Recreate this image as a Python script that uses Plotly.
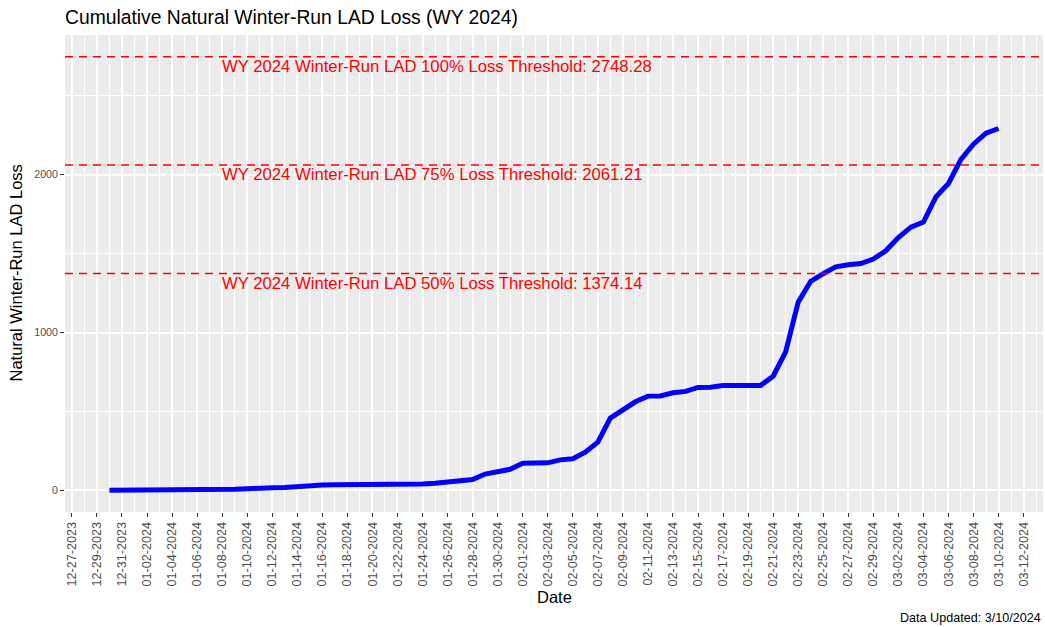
import plotly.graph_objects as go

dates = [
    "2023-12-30", "2023-12-31",
    "2024-01-01", "2024-01-02", "2024-01-03", "2024-01-04", "2024-01-05", "2024-01-06", "2024-01-07",
    "2024-01-08", "2024-01-09", "2024-01-10", "2024-01-11", "2024-01-12", "2024-01-13", "2024-01-14",
    "2024-01-15", "2024-01-16", "2024-01-17", "2024-01-18", "2024-01-19", "2024-01-20", "2024-01-21",
    "2024-01-22", "2024-01-23", "2024-01-24", "2024-01-25", "2024-01-26", "2024-01-27", "2024-01-28",
    "2024-01-29", "2024-01-30", "2024-01-31",
    "2024-02-01", "2024-02-02", "2024-02-03", "2024-02-04", "2024-02-05", "2024-02-06", "2024-02-07",
    "2024-02-08", "2024-02-09", "2024-02-10", "2024-02-11", "2024-02-12", "2024-02-13", "2024-02-14",
    "2024-02-15", "2024-02-16", "2024-02-17", "2024-02-18", "2024-02-19", "2024-02-20", "2024-02-21",
    "2024-02-22", "2024-02-23", "2024-02-24", "2024-02-25", "2024-02-26", "2024-02-27", "2024-02-28",
    "2024-02-29",
    "2024-03-01", "2024-03-02", "2024-03-03", "2024-03-04", "2024-03-05", "2024-03-06", "2024-03-07",
    "2024-03-08", "2024-03-09", "2024-03-10",
]

cumulative_loss = [
    0, 0,
    0, 0, 0, 0, 0, 0, 0,
    3, 6, 10, 16, 17, 18, 25,
    29, 33, 35, 35, 35, 35, 36,
    37, 38, 40, 45, 53, 60, 68,
    103, 118, 133,
    171, 172, 174, 193, 200, 242, 305,
    458, 509, 561, 597, 598, 618, 627,
    652, 653, 664, 665, 665, 665, 723,
    877, 1192, 1325, 1373, 1416, 1430, 1437,
    1466,
    1518, 1602, 1668, 1700, 1860, 1945, 2097,
    2194, 2264, 2293,
]

threshold_names = ["100%", "75%", "50%"]
threshold_values = [2748.28, 2061.21, 1374.14]
label_date = "2024-01-08"

x_range = ["2023-12-26 10:48", "2024-03-13 13:12"]
y_range = [-137.4, 2885.7]
tick_start = "2023-12-27"
y_ticks = [0, 1000, 2000]
y_minor_ticks = [500, 1500, 2500]

FONT = "Liberation Sans, Arial, sans-serif"
DAY_MS = 86400000

fig = go.Figure()

fig.add_trace(go.Scatter(
    x=dates, y=cumulative_loss, mode="lines",
    line=dict(color="#0000FF", width=5),
    showlegend=False, hoverinfo="x+y",
))

for name, val in zip(threshold_names, threshold_values):
    fig.add_shape(type="line", xref="paper", x0=0, x1=1, yref="y", y0=val, y1=val,
                  line=dict(color="#FF0000", width=1.5, dash="8px,6px"))
    fig.add_annotation(
        x=label_date, y=val, xref="x", yref="y", xanchor="left", yanchor="top",
        text=f"WY 2024 Winter-Run LAD {name} Loss Threshold: {val:.2f}",
        showarrow=False, font=dict(family=FONT, size=16.7, color="#FF0000"),
        yshift=2, xshift=-2,
    )

fig.add_annotation(x=0.5, y=0, xref="paper", yref="paper", text="Date", showarrow=False,
                   xanchor="center", yanchor="middle", yshift=-85,
                   font=dict(family=FONT, size=16.5, color="black"))
fig.add_annotation(x=0, y=0.5, xref="paper", yref="paper", text="Natural Winter-Run LAD Loss",
                   showarrow=False, textangle=-90, xanchor="center", yanchor="middle", xshift=-50,
                   font=dict(family=FONT, size=16.5, color="black"))
fig.add_annotation(x=1, y=0, xref="paper", yref="paper", text="Data Updated: 3/10/2024",
                   showarrow=False, xanchor="right", yanchor="middle", yshift=-106,
                   font=dict(family=FONT, size=12.6, color="black"))

fig.update_layout(
    width=1045, height=627,
    margin=dict(l=65, r=2, t=35, b=115),
    paper_bgcolor="white", plot_bgcolor="#EBEBEB",
    font=dict(family=FONT, color="#4D4D4D"),
    title=dict(text="Cumulative Natural Winter-Run LAD Loss (WY 2024)", xref="container", x=65/1045,
               xanchor="left", yref="container", y=1 - 17/627, yanchor="middle",
               font=dict(family=FONT, size=19.3, color="black")),
    xaxis=dict(
        type="date", range=x_range, tick0=tick_start, dtick=2 * DAY_MS,
        tickformat="%m-%d-%Y", tickangle=-90,
        tickfont=dict(family=FONT, size=12.6, color="#4D4D4D"),
        showgrid=True, gridcolor="white", gridwidth=1.6,
        minor=dict(dtick=DAY_MS, tick0=tick_start, showgrid=True, gridcolor="white", gridwidth=0.8, ticks=""),
        ticks="outside", ticklen=4, tickcolor="#333333", tickwidth=1,
        zeroline=False, showline=False,
    ),
    yaxis=dict(
        range=y_range, tickvals=y_ticks,
        tickfont=dict(family=FONT, size=10.6, color="#4D4D4D"),
        showgrid=True, gridcolor="white", gridwidth=1.6,
        minor=dict(tickvals=y_minor_ticks, showgrid=True, gridcolor="white", gridwidth=0.8, ticks=""),
        ticks="outside", ticklen=4, tickcolor="#333333", tickwidth=1,
        zeroline=False, showline=False,
    ),
)

fig.write_html("out.html", config={"displayModeBar": False},
               post_script="document.body.style.margin='0';document.body.style.padding='0';")
